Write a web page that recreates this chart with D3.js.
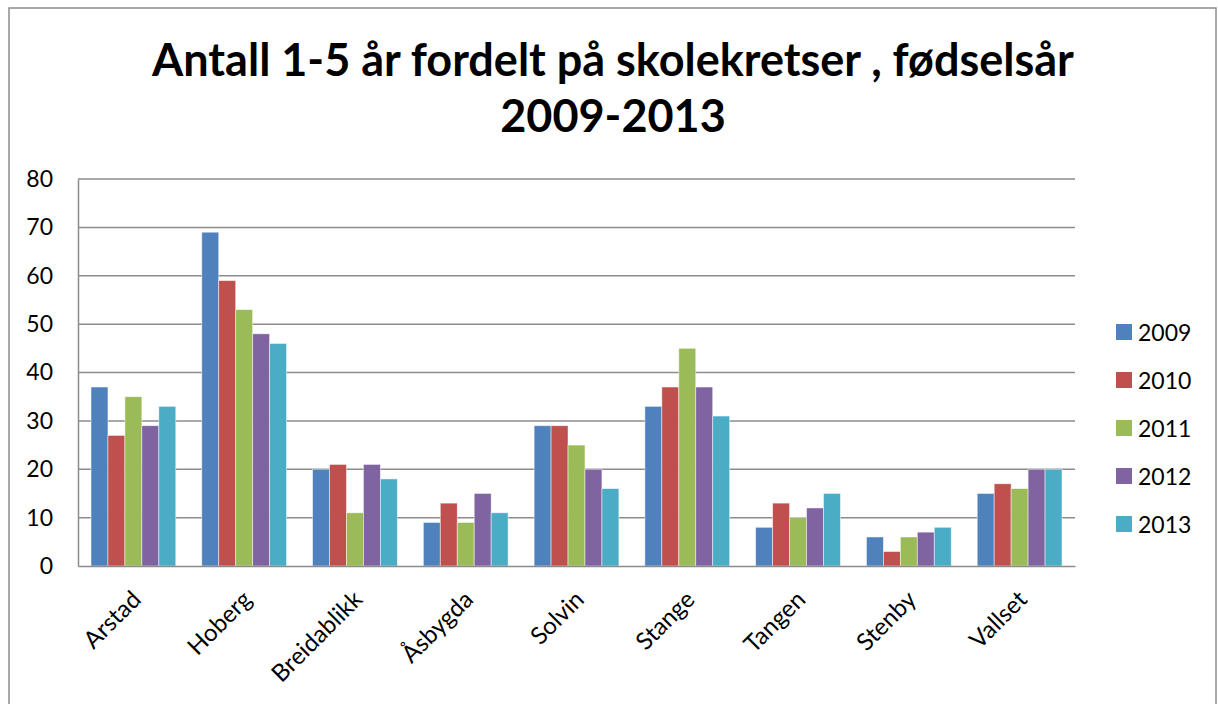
<!DOCTYPE html>
<html>
<head>
<meta charset="utf-8">
<script src="https://cdn.jsdelivr.net/npm/d3@7"></script>
<style>
  body { margin: 0; background: #fff; }
  svg { display: block; font-family: Lato, "Open Sans", sans-serif; }
</style>
</head>
<body>
<svg width="1218" height="704"></svg>
<script>
var categories = ["Arstad", "Hoberg", "Breidablikk", "Åsbygda", "Solvin", "Stange", "Tangen", "Stenby", "Vallset"];
var years = ["2009", "2010", "2011", "2012", "2013"];
var v2009 = [37, 69, 20, 9, 29, 33, 8, 6, 15];
var v2010 = [27, 59, 21, 13, 29, 37, 13, 3, 17];
var v2011 = [35, 53, 11, 9, 25, 45, 10, 6, 16];
var v2012 = [29, 48, 21, 15, 20, 37, 12, 7, 20];
var v2013 = [33, 46, 18, 11, 16, 31, 15, 8, 20];
var yTicks = [0, 10, 20, 30, 40, 50, 60, 70, 80];
var colors = ["#4F81BD", "#C0504D", "#9BBB59", "#8064A2", "#4BACC6"];

var series = [v2009, v2010, v2011, v2012, v2013];

var svg = d3.select('svg');

// chart border
svg.append('rect')
    .attr('x', 9).attr('y', 8)
    .attr('width', 1207).attr('height', 710)
    .attr('fill', 'none')
    .attr('stroke', '#8c8c8c')
    .attr('stroke-width', 1.5);

// title
svg.append('text')
    .attr('x', 613).attr('y', 76)
    .attr('text-anchor', 'middle')
    .attr('font-size', 45).attr('font-weight', 'bold')
    .text('Antall 1-5 år fordelt på skolekretser , fødselsår');
svg.append('text')
    .attr('x', 613).attr('y', 132)
    .attr('text-anchor', 'middle')
    .attr('font-size', 45).attr('font-weight', 'bold')
    .text('2009-2013');

var plotLeft = 78, plotRight = 1075, plotTop = 179, plotBottom = 566;

var scaleX = d3.scaleBand().domain(categories).range([plotLeft, plotRight]);
var gap = 13;
var scaleSub = d3.scaleBand().domain(years).range([gap, scaleX.bandwidth() - gap]);
var scaleY = d3.scaleLinear().domain([0, 80]).range([plotBottom, plotTop]);

// gridlines
svg.append('g').selectAll('line')
    .data(yTicks.slice(1))
    .enter().append('line')
    .attr('x1', plotLeft).attr('x2', plotRight)
    .attr('y1', function(d) { return scaleY(d); })
    .attr('y2', function(d) { return scaleY(d); })
    .attr('stroke', '#8c8c8c')
    .attr('stroke-width', 1.5);

// bars
series.forEach(function(vals, i) {
    svg.append('g').selectAll('rect')
        .data(vals)
        .enter().append('rect')
        .attr('x', function(d, j) { return scaleX(categories[j]) + scaleSub(years[i]); })
        .attr('y', function(d) { return scaleY(d); })
        .attr('width', scaleSub.bandwidth())
        .attr('height', function(d) { return scaleY(0) - scaleY(d); })
        .attr('fill', colors[i])
        .attr('stroke', 'rgba(255,255,255,0.6)')
        .attr('stroke-width', 0.8);
});

// y axis
var yAxis = svg.append('g')
    .attr('transform', 'translate(' + plotLeft + ',0)')
    .call(d3.axisLeft(scaleY).tickValues(yTicks).tickSize(0).tickPadding(25));
yAxis.select('.domain').attr('stroke', '#8c8c8c').attr('stroke-width', 1.5);
yAxis.selectAll('text')
    .attr('font-size', 23).attr('font-family', 'Lato, "Open Sans", sans-serif')
    .attr('fill', '#000');

// x axis
var xAxis = svg.append('g')
    .attr('transform', 'translate(0,' + plotBottom + ')')
    .call(d3.axisBottom(scaleX).tickSize(0).tickPadding(0));
xAxis.select('.domain').attr('stroke', '#8c8c8c').attr('stroke-width', 1.5);
xAxis.selectAll('text')
    .attr('font-size', 24).attr('font-family', 'Lato, "Open Sans", sans-serif')
    .attr('fill', '#000')
    .attr('text-anchor', 'end')
    .attr('dy', 0)
    .attr('transform', 'translate(9,35) rotate(-45)');

// legend
var legend = svg.append('g').selectAll('g')
    .data(years)
    .enter().append('g')
    .attr('transform', function(d, i) { return 'translate(1116,' + (332 + i * 48) + ')'; });
legend.append('rect')
    .attr('x', 0).attr('y', -8)
    .attr('width', 16).attr('height', 16)
    .attr('fill', function(d, i) { return colors[i]; });
legend.append('text')
    .attr('x', 22).attr('y', 9)
    .attr('font-size', 23)
    .text(function(d) { return d; });
</script>
</body>
</html>
